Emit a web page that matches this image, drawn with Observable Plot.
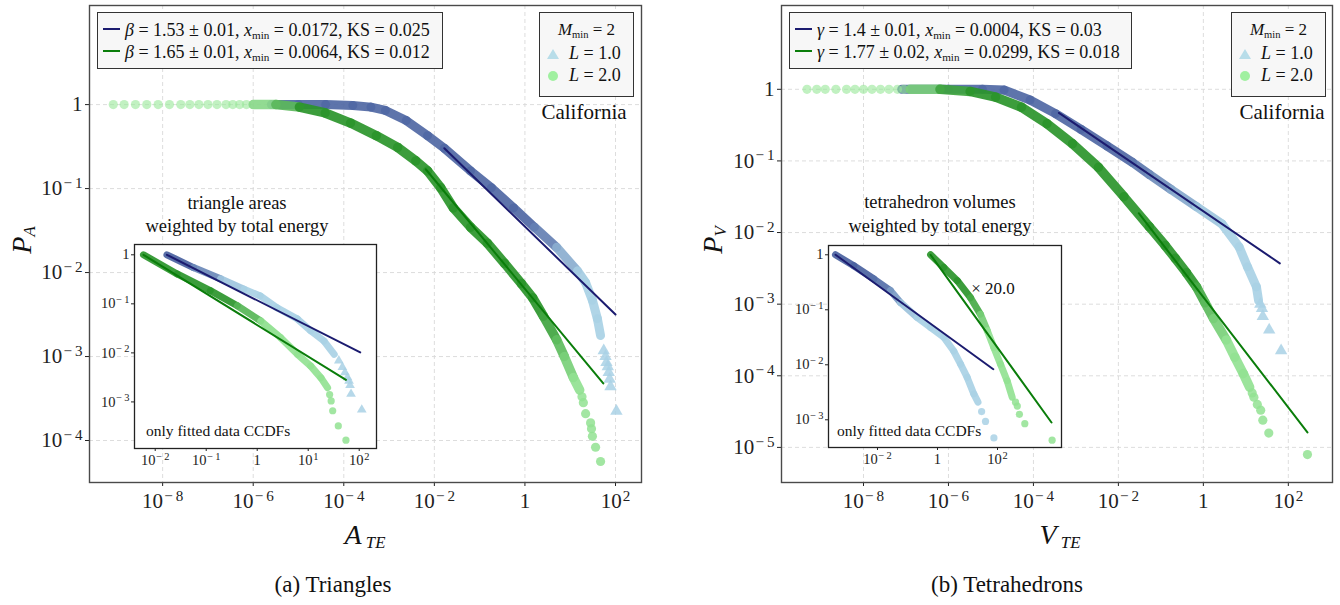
<!DOCTYPE html>
<html><head><meta charset="utf-8">
<script src="https://cdn.jsdelivr.net/npm/d3@7"></script>
<script src="https://cdn.jsdelivr.net/npm/@observablehq/plot@0.6"></script>
<style>
body{margin:0;background:#fff;}
#root{position:relative;width:1340px;height:605px;font-family:"Liberation Serif",serif;color:#111;overflow:hidden}
.abs{position:absolute;white-space:nowrap}
.c{transform:translate(-50%,-50%)}
.box{position:absolute;background:#f7f7f7;border:1.2px solid #333;box-sizing:border-box}
sub{font-size:0.62em;vertical-align:-0.25em;line-height:0}
</style></head>
<body><div id="root"></div>
<script>
// ---------- DATA (log10 x, log10 P) ----------
// Panel (a) Triangles, main axes
const triA_band = [[-5.6,0],[-5.0,0],[-4.4,0],[-3.8,-0.01],[-3.4,-0.03],[-3.08,-0.07],[-2.62,-0.19],[-2.15,-0.37],[-1.78,-0.52],[-1.2,-0.79],[-0.74,-0.99],[-0.25,-1.23],[0.21,-1.46],[0.7,-1.7],[1.16,-1.98],[1.34,-2.12],[1.49,-2.33],[1.6,-2.55],[1.67,-2.75]];
const triA_tail = [[1.74,-2.93],[1.78,-3.0],[1.8,-3.07],[1.83,-3.12],[1.85,-3.19],[1.87,-3.27],[1.89,-3.36],[2.02,-3.65]];
const cirA_head = [[-9.09,0],[-8.85,0],[-8.6,0],[-8.35,0],[-8.1,0],[-7.85,0],[-7.6,0],[-7.4,0],[-7.2,0],[-7.0,0],[-6.8,0],[-6.6,0],[-6.45,0],[-6.3,0],[-6.15,0]];
const cirA_band = [[-6.0,0],[-5.5,0],[-4.98,-0.03],[-4.41,-0.1],[-3.85,-0.22],[-3.28,-0.37],[-2.81,-0.51],[-2.41,-0.67],[-2.15,-0.79],[-1.86,-0.99],[-1.58,-1.23],[-1.2,-1.46],[-0.83,-1.65],[-0.45,-1.89],[-0.08,-2.13],[0.17,-2.3],[0.41,-2.52],[0.7,-2.8],[0.87,-3.0],[1.07,-3.25],[1.21,-3.4]];
const cirA_tail = [[1.26,-3.48],[1.29,-3.55],[1.34,-3.68],[1.45,-3.79],[1.47,-3.86],[1.49,-3.95],[1.56,-4.08],[1.67,-4.25]];
const fitA_tri = [[-1.78,-0.52],[2.0,-2.5]];
const fitA_cir = [[-2.19,-0.77],[1.73,-3.32]];
// Panel (a) inset
const insA_tri_band = [[-1.77,0],[-1.25,-0.26],[-0.72,-0.49],[-0.26,-0.7],[0.06,-0.84],[0.39,-1.08],[0.79,-1.31],[1.05,-1.55],[1.31,-1.76],[1.51,-2.03]];
const insA_tri_tail = [[1.6,-2.16],[1.67,-2.29],[1.72,-2.4],[1.77,-2.5],[1.8,-2.57],[1.82,-2.66],[1.84,-2.84],[2.05,-3.16]];
const insA_cir_band = [[-2.23,0],[-1.57,-0.39],[-0.92,-0.73],[-0.39,-1.04],[0.07,-1.35],[0.46,-1.69],[0.79,-2.03],[1.05,-2.27],[1.25,-2.51],[1.38,-2.71]];
const insA_cir_tail = [[1.42,-2.85],[1.45,-2.98],[1.48,-3.18],[1.59,-3.49],[1.74,-3.78]];
const insFitA_tri = [[-1.77,0],[2.02,-1.99]];
const insFitA_cir = [[-2.23,0],[1.74,-2.55]];
// Panel (b) Tetrahedrons, main axes
const triV_band = [[-7.1,0],[-6.0,0],[-5.2,0],[-4.69,-0.01],[-4.08,-0.15],[-3.48,-0.34],[-2.88,-0.56],[-2.27,-0.79],[-1.67,-1.02],[-1.27,-1.19],[-0.76,-1.4],[-0.16,-1.64],[0.44,-1.88],[0.84,-2.2],[1.04,-2.48],[1.25,-2.76],[1.3,-2.95]];
const triV_tail = [[1.34,-3.0],[1.38,-3.06],[1.4,-3.17],[1.55,-3.36],[1.83,-3.65]];
const cirV_head = [[-9.33,0],[-9.1,0],[-8.9,0],[-8.65,0],[-8.4,0],[-8.2,0],[-8.0,0],[-7.8,0],[-7.6,0],[-7.4,0],[-7.2,0],[-7.05,0]];
const cirV_band = [[-6.9,0],[-6.2,0],[-5.49,-0.03],[-4.89,-0.11],[-4.28,-0.25],[-3.68,-0.48],[-3.08,-0.76],[-2.47,-1.09],[-1.87,-1.5],[-1.27,-1.92],[-0.9,-2.18],[-0.66,-2.36],[-0.4,-2.56],[-0.16,-2.76],[0.04,-2.98],[0.24,-3.2],[0.54,-3.5],[0.74,-3.74],[0.94,-3.97],[1.09,-4.16]];
const cirV_tail = [[1.15,-4.24],[1.19,-4.3],[1.27,-4.4],[1.35,-4.48],[1.4,-4.62],[1.54,-4.8],[2.45,-5.1]];
const fitV_tri = [[-3.4,-0.33],[1.8,-2.43]];
const fitV_cir = [[-1.52,-1.73],[2.45,-4.79]];
// Panel (b) inset (green scaled x 20)
const insV_tri_band = [[-3.4,0],[-2.79,-0.2],[-2.12,-0.44],[-1.57,-0.65],[-1.23,-0.87],[-0.68,-1.14],[-0.23,-1.32],[0.21,-1.5],[0.54,-1.75],[0.77,-1.99],[0.99,-2.23],[1.21,-2.53],[1.35,-2.68]];
const insV_tri_tail = [[1.47,-2.85],[1.6,-3.03],[1.88,-3.33]];
const insV_cir_band = [[-0.23,0],[0.21,-0.23],[0.66,-0.47],[1.1,-0.78],[1.43,-1.08],[1.66,-1.38],[1.88,-1.69],[2.1,-1.99],[2.32,-2.29],[2.49,-2.59]];
const insV_cir_tail = [[2.6,-2.68],[2.66,-2.75],[2.73,-2.9],[2.91,-3.07],[3.82,-3.37]];
const insFitV_tri = [[-3.4,0],[1.86,-2.08]];
const insFitV_cir = [[-0.23,0],[3.8,-3.05]];

// tick values (log10)
const mainXTicks = [-8,-6,-4,-2,0,2];
const mainYTicksA = [0,-1,-2,-3,-4];
const mainYTicksV = [0,-1,-2,-3,-4,-5];
const insXTicksA = [-2,-1,0,1,2];
const insXTicksV = [-2,0,2];
const insYTicks = [0,-1,-2,-3];

// texts
const fitLabelsA = ['<i>β</i> = 1.53 ± 0.01, <i>x</i><sub>min</sub> = 0.0172, KS = 0.025',
                    '<i>β</i> = 1.65 ± 0.01, <i>x</i><sub>min</sub> = 0.0064, KS = 0.012'];
const fitLabelsV = ['<i>γ</i> = 1.4 ± 0.01, <i>x</i><sub>min</sub> = 0.0004, KS = 0.03',
                    '<i>γ</i> = 1.77 ± 0.02, <i>x</i><sub>min</sub> = 0.0299, KS = 0.018'];
const markerLabels = ['<i>L</i> = 1.0', '<i>L</i> = 2.0'];

// ---------- helpers ----------
const NAVY = "#1b1b6f", GREEN = "#0a7d0a";
const P = a => a.map(([lx, ly]) => ({x: Math.pow(10, lx), y: Math.pow(10, ly), lx}));
const pw = a => a.map(e => Math.pow(10, e));
const fmt = d => { const e = Math.round(Math.log10(d)); return e === 0 ? "1" : "10^" + (e < 0 ? "\u2212" + (-e) : e); };
function colorFn({dark, light, from, to, head, headFrom, headTo}) {
  const iT = d3.interpolateRgb(dark, light);
  const iH = head ? d3.interpolateRgb(head, dark) : null;
  return lx => {
    if (iH && lx < headTo) return iH(Math.max(0, (lx - headFrom) / (headTo - headFrom)));
    return iT(Math.min(1, Math.max(0, (lx - from) / (to - from))));
  };
}
function band(arr, cf, w) {
  const pts = P(arr);
  const segs = d3.pairs(pts).map(([a, b]) => ({x1: a.x, y1: a.y, x2: b.x, y2: b.y, c: cf((a.lx + b.lx) / 2)}));
  return Plot.link(segs, {x1: "x1", y1: "y1", x2: "x2", y2: "y2", stroke: "c", strokeWidth: w, strokeLinecap: "round", strokeOpacity: 0.92});
}
function marks(arr, cf, symbol, r, op) {
  return Plot.dot(P(arr), {x: "x", y: "y", r, symbol, fill: d => cf(d.lx), fillOpacity: op, stroke: "none"});
}
function supify(svg) {
  d3.select(svg).selectAll("text").each(function () {
    const t = this.textContent, m = t.match(/^10\^(.*)$/);
    if (!m) return;
    const s = d3.select(this); s.text("10");
    s.append("tspan").attr("dx", "0.08em").attr("dy", "-0.5em").attr("font-size", "0.72em").text(m[1].replace("\u2212", "\u2212\u2009"));
  });
}
const root = document.getElementById("root");
function place(el, left, top) { el.style.position = "absolute"; el.style.left = left + "px"; el.style.top = top + "px"; root.appendChild(el); }
function html(s, left, top, style, cls) { const d = document.createElement("div"); d.className = "abs " + (cls || ""); d.innerHTML = s; d.style.left = left + "px"; d.style.top = top + "px"; d.style.cssText += style || ""; root.appendChild(d); return d; }

function mainPlot(o) {
  const p = Plot.plot({
    width: 670, height: 560,
    marginLeft: o.ml, marginRight: o.mr, marginTop: 5, marginBottom: 78,
    style: {fontFamily: "Liberation Serif", fontSize: "21px", background: "transparent", color: "#222"},
    color: {type: "identity"},
    x: {type: "log", domain: pw(o.xd), ticks: pw(mainXTicks), tickFormat: fmt, tickSize: 4, tickPadding: 7, label: null},
    y: {type: "log", domain: pw(o.yd), ticks: pw(o.yt), tickFormat: fmt, tickSize: 4, tickPadding: 3, label: null},
    marks: [
      Plot.ruleX(pw(mainXTicks), {stroke: "#d9d9d9", strokeDasharray: "4,3", strokeWidth: 0.9}),
      Plot.ruleY(pw(o.yt), {stroke: "#d9d9d9", strokeDasharray: "4,3", strokeWidth: 0.9}),
      ...o.marks,
      Plot.frame({stroke: "#4a4a4a", strokeWidth: 1.4})
    ]
  });
  supify(p); return p;
}
function insetPlot(o) {
  const p = Plot.plot({
    width: o.w, height: o.h,
    marginLeft: 44, marginRight: 6, marginTop: 4, marginBottom: 26,
    style: {fontFamily: "Liberation Serif", fontSize: "14.5px", background: "transparent", color: "#222"},
    color: {type: "identity"},
    x: {type: "log", domain: pw(o.xd), ticks: pw(o.xt), tickFormat: fmt, tickSize: 3, tickPadding: 3, label: null},
    y: {type: "log", domain: pw(o.yd), ticks: pw(insYTicks), tickFormat: fmt, tickSize: 3, tickPadding: 2, label: null},
    marks: [Plot.frame({fill: "white", stroke: "none"}), ...o.marks, Plot.frame({stroke: "#222", strokeWidth: 1.3})]
  });
  supify(p); return p;
}

// colour ramps (simulate marker density)
const cA_tri = colorFn({dark: "#5068a4", light: "#a9d1e5", from: 0.2, to: 1.3});
const cA_cir = colorFn({dark: "#2b952b", light: "#92e292", from: 0.4, to: 1.15, head: "#9fe89f", headFrom: -6.0, headTo: -4.7});
const cV_tri = colorFn({dark: "#5068a4", light: "#a9d1e5", from: -1.8, to: 0.4});
const cV_cir = colorFn({dark: "#2b952b", light: "#92e292", from: -0.3, to: 0.6, head: "#9fe89f", headFrom: -7.0, headTo: -5.6});
const ciA_tri = colorFn({dark: "#4a62a0", light: "#a9d1e5", from: -1.3, to: -0.4});
const ciA_cir = colorFn({dark: "#2b952b", light: "#92e292", from: -0.5, to: 0.3});
const ciV_tri = colorFn({dark: "#4a62a0", light: "#a9d1e5", from: -2.0, to: -0.8});
const ciV_cir = colorFn({dark: "#2b952b", light: "#92e292", from: 1.1, to: 1.7});
const lightG = () => "#98e898";

// ---------- panel (a) ----------
place(mainPlot({ml: 89, mr: 29, xd: [-9.615, 2.574], yd: [-4.5, 1.18], yt: mainYTicksA, marks: [
  band(triA_band, cA_tri, 9), marks(triA_tail, cA_tri, "triangle", 4.6, 0.85),
  marks(cirA_head, lightG, "circle", 4.6, 0.6), band(cirA_band, cA_cir, 9.5), marks(cirA_tail, cA_cir, "circle", 4.6, 0.85),
  Plot.line(P(fitA_tri), {x: "x", y: "y", stroke: NAVY, strokeWidth: 2}),
  Plot.line(P(fitA_cir), {x: "x", y: "y", stroke: GREEN, strokeWidth: 2})
]}), 0, 0);
place(insetPlot({w: 292, h: 234, xd: [-2.406, 2.339], yd: [-3.95, 0.21], xt: insXTicksA, marks: [
  band(insA_tri_band, ciA_tri, 7), marks(insA_tri_tail, ciA_tri, "triangle", 3.6, 0.85),
  band(insA_cir_band, ciA_cir, 7), marks(insA_cir_tail, ciA_cir, "circle", 3.6, 0.85),
  Plot.line(P(insFitA_tri), {x: "x", y: "y", stroke: NAVY, strokeWidth: 2}),
  Plot.line(P(insFitA_cir), {x: "x", y: "y", stroke: GREEN, strokeWidth: 2})
]}), 90, 240);

// ---------- panel (b) ----------
place(mainPlot({ml: 111, mr: 8, xd: [-9.93, 3.04], yd: [-5.49, 1.17], yt: mainYTicksV, marks: [
  band(triV_band, cV_tri, 9), marks(triV_tail, cV_tri, "triangle", 4.6, 0.85),
  marks(cirV_head, lightG, "circle", 4.6, 0.6), band(cirV_band, cV_cir, 9.5), marks(cirV_tail, cV_cir, "circle", 4.6, 0.85),
  Plot.line(P(fitV_tri), {x: "x", y: "y", stroke: NAVY, strokeWidth: 2}),
  Plot.line(P(fitV_cir), {x: "x", y: "y", stroke: GREEN, strokeWidth: 2})
]}), 670, 0);
place(insetPlot({w: 283, h: 232, xd: [-3.633, 4.133], yd: [-3.504, 0.169], xt: insXTicksV, marks: [
  band(insV_tri_band, ciV_tri, 7), marks(insV_tri_tail, ciV_tri, "circle", 3.6, 0.85),
  band(insV_cir_band, ciV_cir, 7), marks(insV_cir_tail, ciV_cir, "circle", 3.6, 0.85),
  Plot.line(P(insFitV_tri), {x: "x", y: "y", stroke: NAVY, strokeWidth: 2}),
  Plot.line(P(insFitV_cir), {x: "x", y: "y", stroke: GREEN, strokeWidth: 2})
]}), 784, 241);

// ---------- legends & texts ----------
function fitLegend(left, top, w, labels) {
  const b = document.createElement("div"); b.className = "box";
  b.style.cssText += `left:${left}px;top:${top}px;width:${w}px;height:57px;font-size:18px;padding:6px 0 0 5px;line-height:22px`;
  b.innerHTML = labels.map((s, i) => `<div style="white-space:nowrap"><span style="display:inline-block;width:17px;height:2.5px;background:${i ? GREEN : NAVY};vertical-align:6px;margin-right:5px"></span>${s}</div>`).join("");
  root.appendChild(b);
}
function markLegend(left, top) {
  const b = document.createElement("div"); b.className = "box";
  b.style.cssText += `left:${left}px;top:${top}px;width:95px;height:85px;font-size:18px;line-height:22.5px;padding-top:6px`;
  const tri = `<svg width="14" height="12" style="vertical-align:-1px"><path d="M7,1 L13,11 L1,11Z" fill="#add8e6" fill-opacity="0.85"/></svg>`;
  const cir = `<svg width="14" height="12" style="vertical-align:-1px"><circle cx="7" cy="6" r="5" fill="#90ee90" fill-opacity="0.85"/></svg>`;
  b.innerHTML = `<div style="text-align:center;font-size:17px"><i>M</i><sub>min</sub> = 2</div>` +
    `<div style="padding-left:6px">${tri}&nbsp;&nbsp;${markerLabels[0]}</div>` +
    `<div style="padding-left:6px">${cir}&nbsp;&nbsp;${markerLabels[1]}</div>`;
  root.appendChild(b);
}
fitLegend(97, 12, 346, fitLabelsA);
markLegend(539, 12);
fitLegend(789, 12, 343, fitLabelsV);
markLegend(1231, 12);

html("California", 584, 112, "font-size:21px", "c");
html("California", 1282, 112, "font-size:21px", "c");
html("triangle areas", 237, 203, "font-size:18.5px", "c");
html("weighted by total energy", 237, 226, "font-size:18.5px", "c");
html("tetrahedron volumes", 940, 202, "font-size:18.5px", "c");
html("weighted by total energy", 940, 226, "font-size:18.5px", "c");
html("only fitted data CCDFs", 146, 422, "font-size:15.5px");
html("only fitted data CCDFs", 837, 422, "font-size:15.5px");
html("× 20.0", 993, 289, "font-size:17px", "c");

html("<i>P</i><sub style='font-size:0.6em'><i>A</i></sub>", 22, 240, "font-size:28px;transform:translate(-50%,-50%) rotate(-90deg)");
html("<i>P</i><sub style='font-size:0.6em'><i>V</i></sub>", 713, 240, "font-size:28px;transform:translate(-50%,-50%) rotate(-90deg)");
html("<i>A</i><sub style='font-size:0.6em'>&nbsp;<i>TE</i></sub>", 365, 535, "font-size:28px", "c");
html("<i>V</i><sub style='font-size:0.6em'>&nbsp;<i>TE</i></sub>", 1060, 535, "font-size:28px", "c");
html("(a) Triangles", 333, 585, "font-size:23px", "c");
html("(b) Tetrahedrons", 1007, 585, "font-size:23px", "c");
</script></body></html>
